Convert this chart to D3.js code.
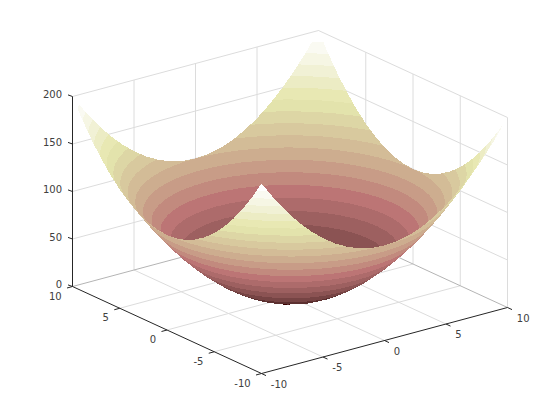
<!DOCTYPE html>
<html><head><meta charset="utf-8">
<script src="https://cdn.jsdelivr.net/npm/d3@7"></script>
<style>html,body{margin:0;padding:0;background:#fff}svg{display:block}text{font-family:"DejaVu Sans",sans-serif;font-size:10px;fill:#404040}</style>
</head><body><svg id="c" width="560" height="420"></svg>
<script>
const xValues=[-10,-9,-8,-7,-6,-5,-4,-3,-2,-1,0,1,2,3,4,5,6,7,8,9,10];
const yValues=[-10,-9,-8,-7,-6,-5,-4,-3,-2,-1,0,1,2,3,4,5,6,7,8,9,10];
const zRows=[
[200,181,164,149,136,125,116,109,104,101,100,101,104,109,116,125,136,149,164,181,200],
[181,162,145,130,117,106,97,90,85,82,81,82,85,90,97,106,117,130,145,162,181],
[164,145,128,113,100,89,80,73,68,65,64,65,68,73,80,89,100,113,128,145,164],
[149,130,113,98,85,74,65,58,53,50,49,50,53,58,65,74,85,98,113,130,149],
[136,117,100,85,72,61,52,45,40,37,36,37,40,45,52,61,72,85,100,117,136],
[125,106,89,74,61,50,41,34,29,26,25,26,29,34,41,50,61,74,89,106,125],
[116,97,80,65,52,41,32,25,20,17,16,17,20,25,32,41,52,65,80,97,116],
[109,90,73,58,45,34,25,18,13,10,9,10,13,18,25,34,45,58,73,90,109],
[104,85,68,53,40,29,20,13,8,5,4,5,8,13,20,29,40,53,68,85,104],
[101,82,65,50,37,26,17,10,5,2,1,2,5,10,17,26,37,50,65,82,101],
[100,81,64,49,36,25,16,9,4,1,0,1,4,9,16,25,36,49,64,81,100],
[101,82,65,50,37,26,17,10,5,2,1,2,5,10,17,26,37,50,65,82,101],
[104,85,68,53,40,29,20,13,8,5,4,5,8,13,20,29,40,53,68,85,104],
[109,90,73,58,45,34,25,18,13,10,9,10,13,18,25,34,45,58,73,90,109],
[116,97,80,65,52,41,32,25,20,17,16,17,20,25,32,41,52,65,80,97,116],
[125,106,89,74,61,50,41,34,29,26,25,26,29,34,41,50,61,74,89,106,125],
[136,117,100,85,72,61,52,45,40,37,36,37,40,45,52,61,72,85,100,117,136],
[149,130,113,98,85,74,65,58,53,50,49,50,53,58,65,74,85,98,113,130,149],
[164,145,128,113,100,89,80,73,68,65,64,65,68,73,80,89,100,113,128,145,164],
[181,162,145,130,117,106,97,90,85,82,81,82,85,90,97,106,117,130,145,162,181],
[200,181,164,149,136,125,116,109,104,101,100,101,104,109,116,125,136,149,164,181,200]];
const bandColors=["#380000","#5c3030","#764444","#8b5353","#9d6060","#ad6b6b","#bc7575","#c28a7e","#c89c87","#cdad8f","#d3bc97","#d8c99e","#ddd6a5","#e3e3ac","#e8e8b3","#ececc4","#f1f1d5","#f6f6e4","#fafaf2","#ffffff"];
const xTicks=[-10,-5,0,5,10], yTicks=[-10,-5,0,5,10], zTicks=[0,50,100,150,200];

const O=[261.5,373.5];
const xPx=d3.scaleLinear().domain([-10,10]).range([0,246]);
const xPy=d3.scaleLinear().domain([-10,10]).range([0,-66]);
const yPx=d3.scaleLinear().domain([-10,10]).range([0,-189]);
const yPy=d3.scaleLinear().domain([-10,10]).range([0,-87]);
const zPy=d3.scaleLinear().domain([0,200]).range([0,-190]);
const P=(x,y,z)=>[O[0]+xPx(x)+yPx(y),O[1]+xPy(x)+yPy(y)+zPy(z)];

const svg=d3.select("#c");
const seg=(g,a,b,st,w)=>g.append("line").attr("x1",a[0]).attr("y1",a[1]).attr("x2",b[0]).attr("y2",b[1]).attr("stroke",st).attr("stroke-width",w||1);

// back walls and floor
const grid=svg.append("g"), G="#dcdcdc", E="#b4b4b4";
zTicks.slice(1).forEach(z=>{seg(grid,P(-10,10,z),P(10,10,z),G);seg(grid,P(10,10,z),P(10,-10,z),G);});
[-5,0,5,10].forEach(x=>seg(grid,P(x,10,0),P(x,10,200),G));
[-10,-5,0,5].forEach(y=>seg(grid,P(10,y,0),P(10,y,200),G));
[-5,0,5].forEach(x=>seg(grid,P(x,-10,0),P(x,10,0),G));
[-5,0,5].forEach(y=>seg(grid,P(-10,y,0),P(10,y,0),G));
seg(grid,P(-10,10,0),P(10,10,0),E);
seg(grid,P(10,10,0),P(10,-10,0),E);

// surface: far-to-near triangles, each cut into its flat colour bands
const surf=svg.append("g").attr("shape-rendering","crispEdges");
const line=d3.line();
const step=200/bandColors.length;
function clip(poly,test,lim){
  const out=[];
  poly.forEach((a,k)=>{
    const b=poly[(k+1)%poly.length],ia=test(a[2]),ib=test(b[2]);
    if(ia)out.push(a);
    if(ia!==ib){const t=(lim-a[2])/(b[2]-a[2]);out.push([a[0]+t*(b[0]-a[0]),a[1]+t*(b[1]-a[1]),lim]);}
  });
  return out;
}
function tri(vs){
  const zs=vs.map(v=>v[2]);
  const a=Math.floor(d3.min(zs)/step),b=Math.min(bandColors.length-1,Math.floor(d3.max(zs)/step));
  for(let k=a;k<=b;k++){
    const lo=k*step,hi=(k+1)*step;
    let p=clip(vs,z=>z>=lo,lo);
    if(p.length)p=clip(p,z=>z<=hi,hi);
    if(p.length<3)continue;
    surf.append("path").attr("d",line(p.map(v=>P(v[0],v[1],v[2])))+"Z").attr("fill",bandColors[k]);
  }
}
for(let i=xValues.length-2;i>=0;i--)for(let j=yValues.length-2;j>=0;j--){
  const v=(a,b)=>[xValues[a],yValues[b],zRows[b][a]];
  tri([v(i+1,j+1),v(i+1,j),v(i,j+1)]);
  tri([v(i,j),v(i+1,j),v(i,j+1)]);
}

// black axes
const ax=svg.append("g"),K="#262626";
seg(ax,P(-10,10,0),P(-10,10,200),K);
seg(ax,P(-10,10,0),P(-10,-10,0),K);
seg(ax,P(-10,-10,0),P(10,-10,0),K);
const lab=(p,t,anc,dx,dy)=>ax.append("text").attr("x",p[0]+dx).attr("y",p[1]+dy).attr("text-anchor",anc).attr("dominant-baseline","central").text(t);
zTicks.forEach(z=>{const p=P(-10,10,z);seg(ax,p,[p[0]-4.5,p[1]-1.6],K);lab(p,z,"end",-10.5,-2);});
yTicks.forEach(y=>{const p=P(-10,y,0);seg(ax,p,[p[0]-5.5,p[1]+1.5],K);lab(p,y,"end",-10.8,9.7);});
xTicks.forEach(x=>{const p=P(x,-10,0);seg(ax,p,[p[0]+4.5,p[1]+2.1],K);lab(p,x,"start",9.3,10.5);});
</script></body></html>
